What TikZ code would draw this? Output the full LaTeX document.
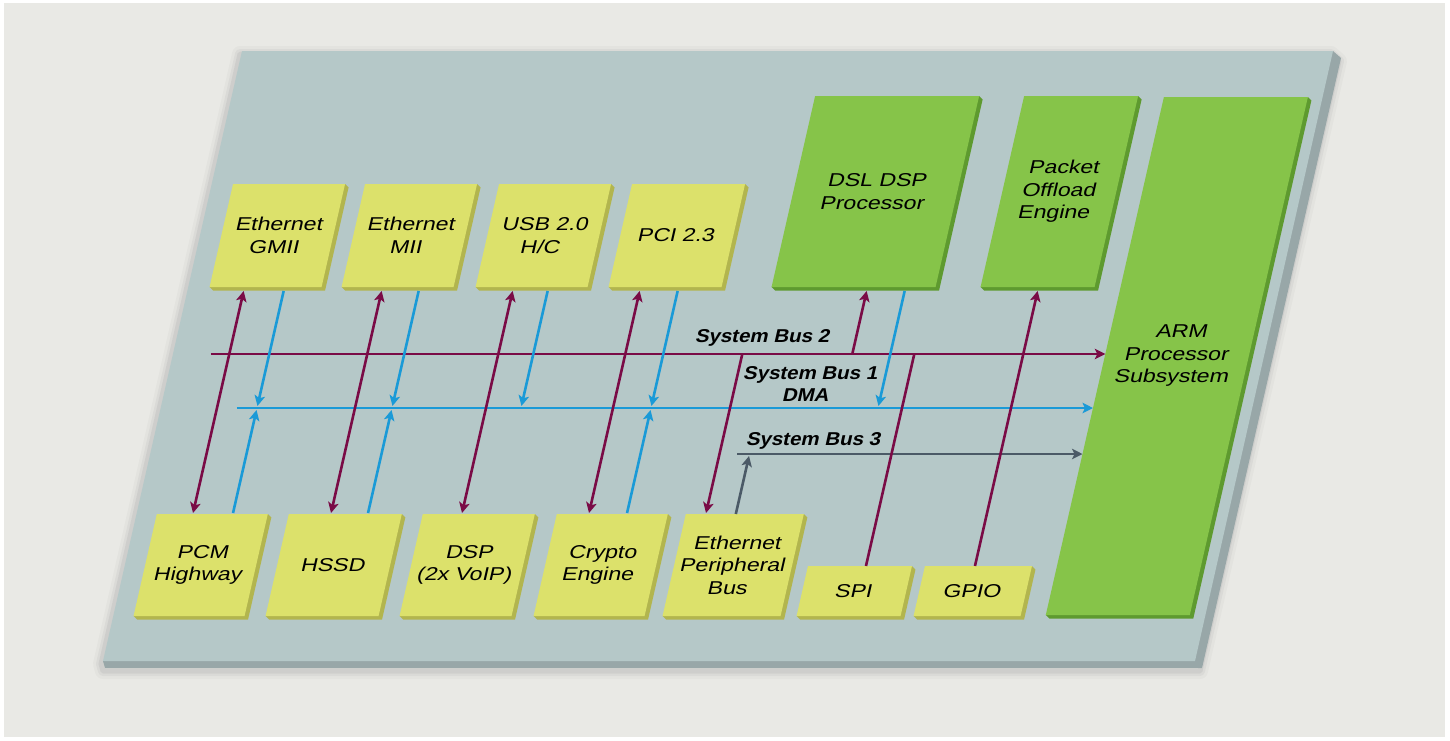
\documentclass[tikz,border=0pt]{standalone}
\usepackage{fontspec}
\usetikzlibrary{calc,arrows.meta}
\newfontfamily\blockfont{Liberation Sans}[FakeStretch=1.24]
\newfontfamily\busfont{Liberation Sans}[FakeStretch=1.1]
\definecolor{bgc}{HTML}{E9E9E5}
\definecolor{boardc}{HTML}{B5C8C8}
\definecolor{boardside}{HTML}{98A7A8}
\definecolor{yel}{HTML}{DCE16B}
\definecolor{yelside}{HTML}{B2B54E}
\definecolor{grn}{HTML}{86C449}
\definecolor{grnside}{HTML}{5E9A2F}
\definecolor{maroon}{HTML}{7A0B46}
\definecolor{sbblue}{HTML}{1A9AD7}
\definecolor{slate}{HTML}{4B5A67}
\tikzset{
  blockbase/.style={draw=none, transform shape, align=center, inner sep=0pt, outer sep=0pt,
    anchor=north west, text=black, font={\blockfont\fontsize{18.6}{22.5}\selectfont}},
  yblock/.style={blockbase, fill=yel},
  gblock/.style={blockbase, fill=grn},
  arr/.style={-{Stealth[length=10.5pt,width=10.5pt,inset=2.5pt]}},
  darr/.style={{Stealth[length=10.5pt,width=10.5pt,inset=2.5pt]}-{Stealth[length=10.5pt,width=10.5pt,inset=2.5pt]}},
  mline/.style={draw=maroon, line width=2.6pt},
  bline/.style={draw=sbblue, line width=2.6pt},
  sline/.style={draw=slate, line width=2.6pt},
  busline/.style={line width=2.9pt},
  buslabel/.style={transform shape, inner sep=0pt, align=center, text=black,
    font={\busfont\bfseries\fontsize{18.6}{22}\selectfont}},
}
% name, style, side colour, u, top, width, height, text
\newcommand\blk[8]{%
  \fill[#3] ({#4+#6},#5) -- ({#4+#6+4.3},{#5+3.5}) -- ({#4+#6+4.3},{#5+#7+3.5})
     -- ({#4+4.3},{#5+#7+3.5}) -- (#4,{#5+#7}) -- cycle;
  \node[#2, minimum width=#6pt, minimum height=#7pt] (#1) at (#4,#5) {#8};
}
\begin{document}
\begin{tikzpicture}[x=1pt,y=-1pt]
\useasboundingbox (0,0) rectangle (1450,740);
\fill[white] (0,0) rectangle (1450,740);
\fill[bgc] (4,3) rectangle (1445,737);
% board shadow
\foreach \w/\o in {16/0.025, 10/0.035, 5/0.05}
  \draw[line width=\w pt, black, opacity=\o, line join=round]
    ([shift={(-2,3)}]242,51) -- ([shift={(-2,3)}]1333,51) -- ([shift={(-2,3)}]1341,58)
    -- ([shift={(-2,3)}]1202,668) -- ([shift={(-2,3)}]105,668) -- ([shift={(-2,3)}]103,661) -- cycle;
% board
\fill[boardside] (1333,51) -- (1341,58) -- (1202,668) -- (105,668) -- (103,661) -- cycle;
\fill[boardc] (242,51) -- (1333,51) -- (1195,661) -- (103,661) -- cycle;

\begin{scope}[xslant=0.228]
  % top row
  \blk{gmii}{yblock}{yelside}{275}{184}{112}{103}{Ethernet\\GMII}
  \blk{mii}{yblock}{yelside}{407}{184}{112}{103}{Ethernet\\MII}
  \blk{usb}{yblock}{yelside}{541}{184}{112}{103}{USB 2.0\\H/C}
  \blk{pci}{yblock}{yelside}{674}{184}{113}{103}{PCI 2.3}
  % bottom row
  \blk{pcm}{yblock}{yelside}{274}{514}{111}{102}{PCM\\Highway}
  \blk{hssd}{yblock}{yelside}{406}{514}{113}{102}{HSSD}
  \blk{dsp}{yblock}{yelside}{540}{514}{112}{102}{DSP\\(2x VoIP)}
  \blk{crypto}{yblock}{yelside}{674}{514}{111}{102}{Crypto\\Engine}
  \blk{ethpb}{yblock}{yelside}{803}{514}{118}{102}{Ethernet\\Peripheral\\Bus}
  \blk{spi}{yblock}{yelside}{937}{566}{104}{50}{SPI}
  \blk{gpio}{yblock}{yelside}{1054}{566}{107}{50}{GPIO}
  % green
  \blk{dsl}{gblock}{grnside}{837}{96}{164}{191}{DSL DSP\\Processor}
  \blk{poe}{gblock}{grnside}{1046}{96}{114}{191}{Packet\\Offload\\Engine}
  \blk{arm}{gblock}{grnside}{1186}{97}{144}{518}{ARM\\Processor\\Subsystem}

  % buses
  \coordinate (b2s) at (291.7,354);
  \coordinate (b1s) at (330,408);
  \coordinate (b3s) at (840.5,454);
  \coordinate (a2) at ($(arm.north west)!0.496!(arm.south west)$);
  \coordinate (a1) at ($(arm.north west)!0.600!(arm.south west)$);
  \coordinate (a3) at ($(arm.north west)!0.689!(arm.south west)$);
  \draw[mline, busline, arr] (b2s) -- (b2s -| a2);
  \draw[bline, busline, arr] (b1s) -- (b1s -| a1);
  \draw[sline, busline, arr] (b3s) -- (b3s -| a3);

  % column connectors
  \draw[mline, darr] ($(gmii.south west)+(35,4)$) -- ($(pcm.north west)+(36,-1)$);
  \draw[bline, arr] ($(gmii.south west)+(75,4)$) -- ($(gmii.south west)+(75,119)$);
  \draw[bline, arr] ($(pcm.north west)+(76,-1)$) -- ($(pcm.north west)+(76,-104)$);

  \draw[mline, darr] ($(mii.south west)+(41,4)$) -- ($(hssd.north west)+(42,-1)$);
  \draw[bline, arr] ($(mii.south west)+(78,4)$) -- ($(mii.south west)+(78,119)$);
  \draw[bline, arr] ($(hssd.north west)+(79,-1)$) -- ($(hssd.north west)+(79,-104)$);

  \draw[mline, darr] ($(usb.south west)+(38,4)$) -- ($(dsp.north west)+(39,-1)$);
  \draw[bline, arr] ($(usb.south west)+(73,4)$) -- ($(usb.south west)+(73,119)$);

  \draw[mline, darr] ($(pci.south west)+(32,4)$) -- ($(crypto.north west)+(32,-1)$);
  \draw[bline, arr] ($(pci.south west)+(70,4)$) -- ($(pci.south west)+(70,119)$);
  \draw[bline, arr] ($(crypto.north west)+(70,-1)$) -- ($(crypto.north west)+(70,-104)$);

  % ethernet peripheral bus
  \draw[mline, arr] ($(ethpb.north west)+(20,-160)$) -- ($(ethpb.north west)+(20,-1)$);
  \draw[sline, arr] ($(ethpb.north west)+(50,0)$) -- ($(ethpb.north west)+(50,-58)$);

  % DSL DSP
  \draw[mline, arr] ($(dsl.south west)+(96,67)$) -- ($(dsl.south west)+(96,4)$);
  \draw[bline, arr] ($(dsl.south west)+(134,4)$) -- ($(dsl.south west)+(134,119)$);

  % SPI and GPIO
  \draw[mline] ($(spi.north west)+(58,0)$) -- ($(spi.north west)+(58,-212)$);
  \draw[mline, arr] ($(gpio.north west)+(50,0)$) -- ($(poe.south west)+(58,4)$);

  % bus labels
  \node[buslabel] (l2) at (840,338) {System Bus 2};
  \node[buslabel] (l1) at (896.6,384) {System Bus 1\\DMA};
  \node[buslabel] (l3) at (914.5,441) {System Bus 3};
\end{scope}
\end{tikzpicture}
\end{document}
